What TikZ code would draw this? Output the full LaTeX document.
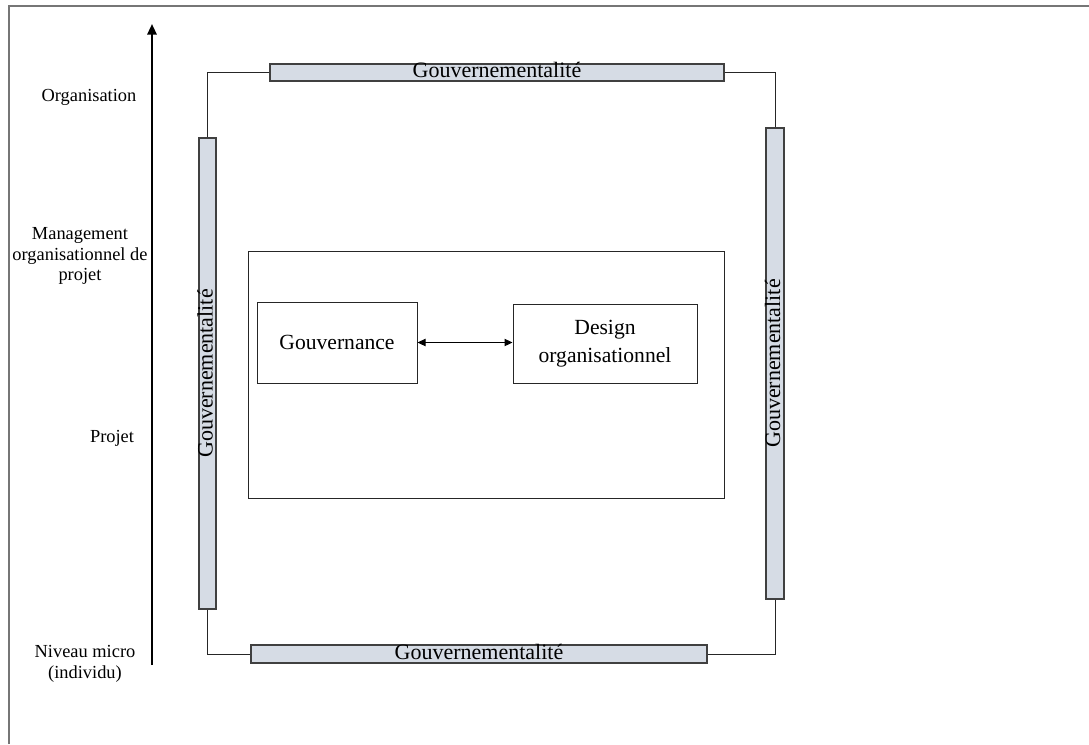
\documentclass[tikz,border=0pt]{standalone}
\usepackage{fontspec}
\setmainfont{Liberation Serif}
\usetikzlibrary{arrows.meta}
\definecolor{barfill}{HTML}{D6DCE5}
\definecolor{barline}{HTML}{404040}
\definecolor{framegray}{HTML}{767676}
\begin{document}
\begin{tikzpicture}[x=0.75pt,y=-0.75pt,
  govbar/.style={draw=barline, fill=barfill, line width=0.8pt, inner sep=0pt,
    font=\fontsize{16.5}{18}\selectfont, text height=10pt, text depth=2.2pt},
  plainbox/.style={draw=black!85, line width=0.75pt, inner sep=0pt, align=center,
    font=\fontsize{16.2}{21}\selectfont},
  levellabel/.style={align=center, inner sep=0pt, font=\fontsize{13.8}{15.5}\selectfont},
  wire/.style={draw=black!85, line width=0.75pt}
]
\useasboundingbox (0,0) rectangle (1089,744);

% page frame (top and left edges)
\draw[framegray, line width=1.4pt] (9,744) -- (9,6) -- (1089,6);

% vertical scale axis
\coordinate (axbot) at (152,665);
\coordinate (axtop) at (152,24);
\draw[line width=1.6pt, -{Triangle[length=8pt,width=7pt]}] (axbot) -- (axtop);

% level labels
\node[levellabel] (lorg) at (89,97) {Organisation};
\node[levellabel] (lmgmt) at (80,256) {Management\\organisationnel de\\projet};
\node[levellabel] (lproj) at (112,438) {Projet};
\node[levellabel] (lmicro) at (85,664) {Niveau micro\\(individu)};

% governmentality bars
\node[govbar, minimum width=340.5pt, minimum height=12.75pt] (tbar) at (497,72.5) {Gouvernementalité};
\node[govbar, minimum width=342pt, minimum height=13.5pt] (bbar) at (479,654) {Gouvernementalité};
\node[govbar, rotate=90, minimum width=353.25pt, minimum height=12.75pt] (lbar) at (207.5,373.5) {Gouvernementalité};
\node[govbar, rotate=90, minimum width=353.25pt, minimum height=13.5pt] (rbar) at (775,363.5) {Gouvernementalité};

% links between the bars
\draw[wire] (lbar.east) |- (tbar.west);
\draw[wire] (tbar.east) -| (rbar.east);
\draw[wire] (rbar.west) |- (bbar.east);
\draw[wire] (lbar.west) |- (bbar.west);

% inner frame and its two boxes
\node[plainbox, minimum width=357pt, minimum height=185.25pt] (inner) at (486,374.5) {};
\node[plainbox, minimum width=120pt, minimum height=60.75pt] (gouv) at (337,342.5) {Gouvernance};
\node[plainbox, minimum width=138pt, minimum height=59.25pt] (design) at (605,343.5) {Design\\organisationnel};

\draw[line width=0.75pt, {Triangle[length=6pt,width=5.5pt]}-{Triangle[length=6pt,width=5.5pt]}]
  (gouv.east) -- (gouv.east -| design.west);
\end{tikzpicture}
\end{document}
